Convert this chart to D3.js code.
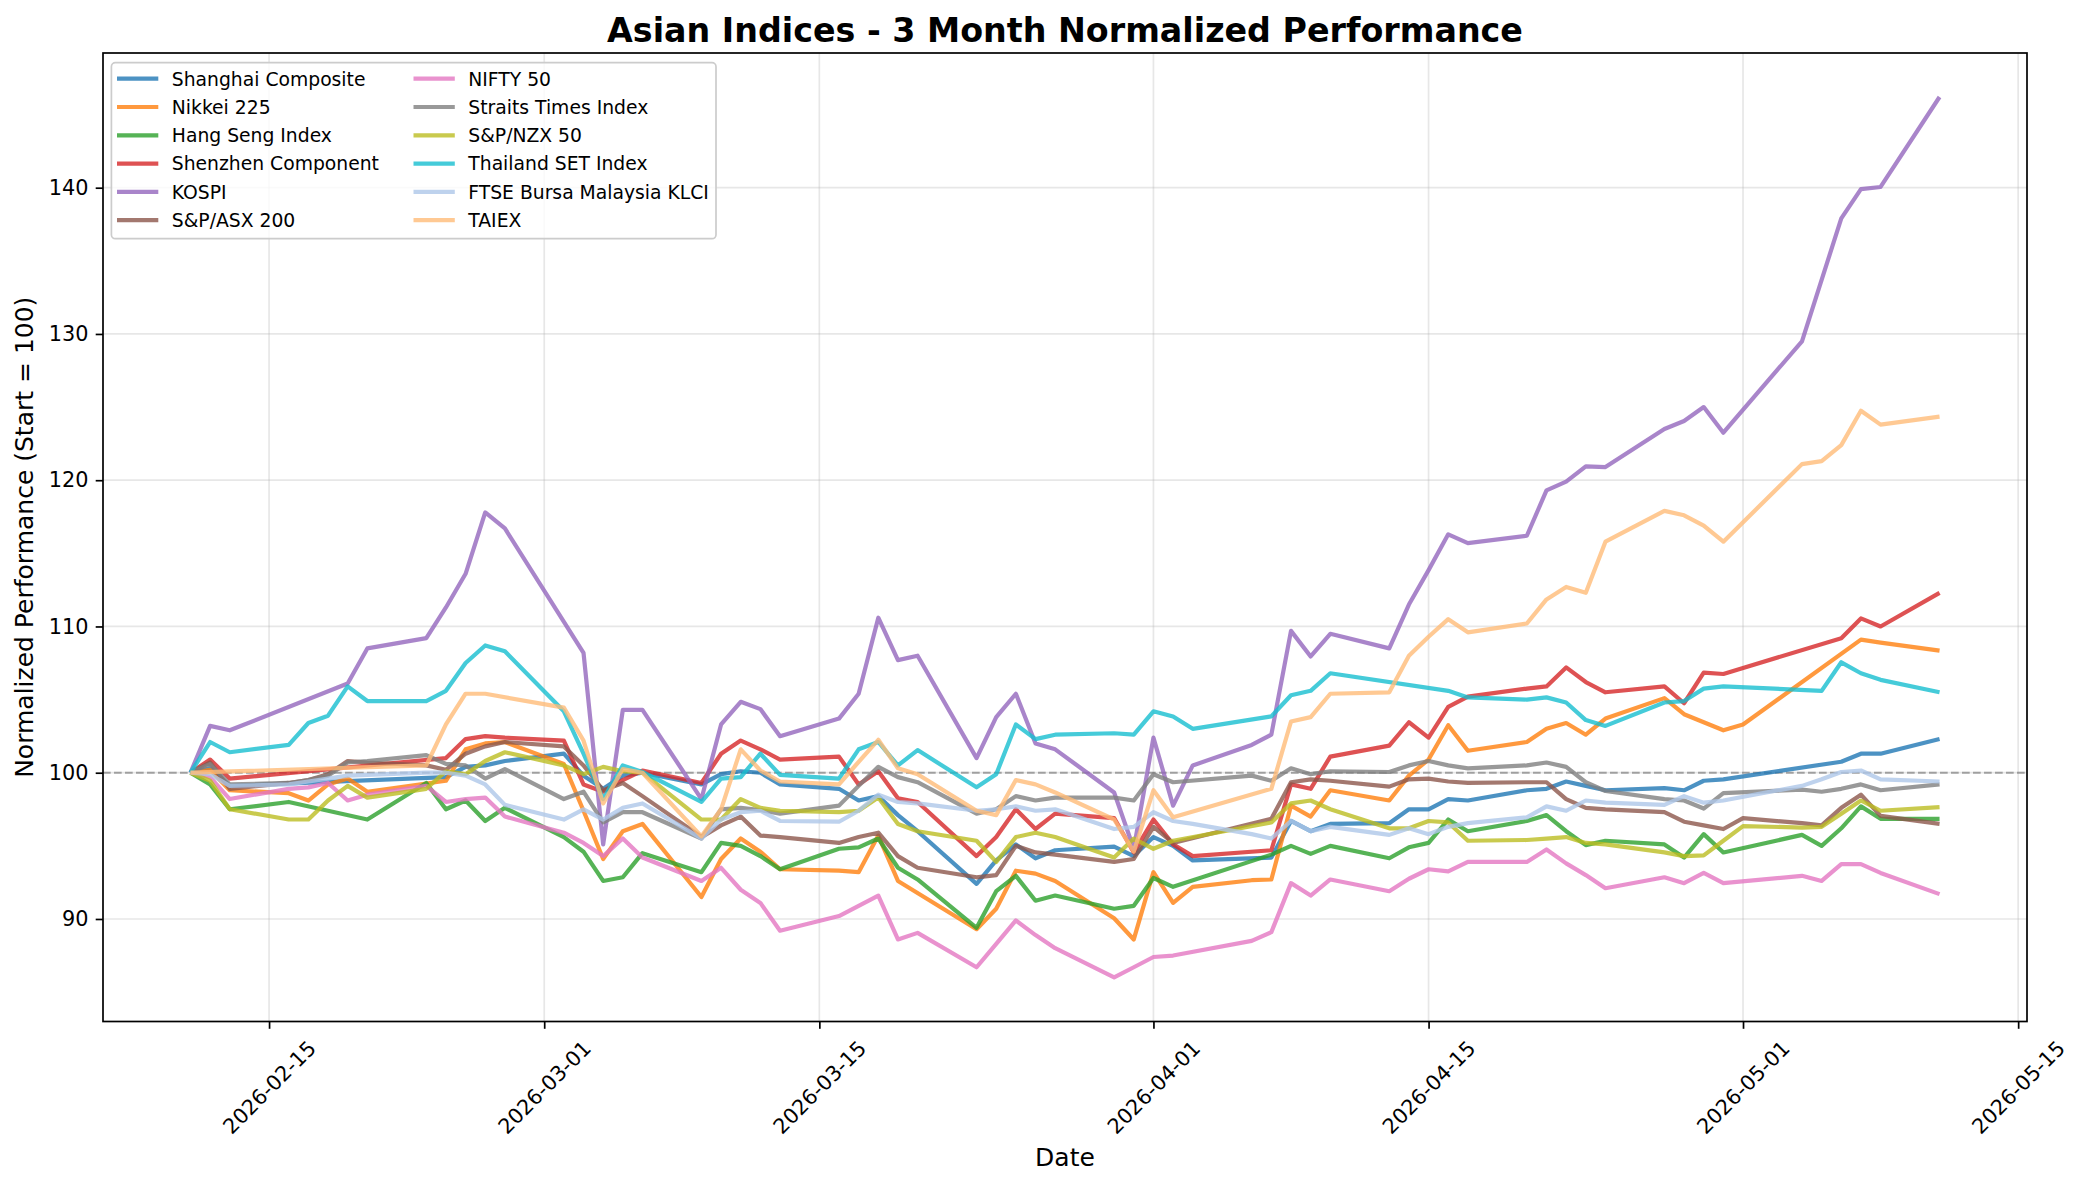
<!DOCTYPE html>
<html>
<head>
<meta charset="utf-8">
<script src="https://cdn.jsdelivr.net/npm/d3@7"></script>
<style>
body { margin: 0; background: #fff; }
text { font-family: 'DejaVu Sans', sans-serif; fill: #000; }
</style>
</head>
<body>
<script>
// trading days (weekdays), each index keeps its own holidays as null
var dates = [
    '2026-02-11', '2026-02-12', '2026-02-13',
    '2026-02-16', '2026-02-17', '2026-02-18', '2026-02-19', '2026-02-20',
    '2026-02-23', '2026-02-24', '2026-02-25', '2026-02-26', '2026-02-27',
    '2026-03-02', '2026-03-03', '2026-03-04', '2026-03-05', '2026-03-06',
    '2026-03-09', '2026-03-10', '2026-03-11', '2026-03-12', '2026-03-13',
    '2026-03-16', '2026-03-17', '2026-03-18', '2026-03-19', '2026-03-20',
    '2026-03-23', '2026-03-24', '2026-03-25', '2026-03-26', '2026-03-27',
    '2026-03-30', '2026-03-31', '2026-04-01', '2026-04-02', '2026-04-03',
    '2026-04-06', '2026-04-07', '2026-04-08', '2026-04-09', '2026-04-10',
    '2026-04-13', '2026-04-14', '2026-04-15', '2026-04-16', '2026-04-17',
    '2026-04-20', '2026-04-21', '2026-04-22', '2026-04-23', '2026-04-24',
    '2026-04-27', '2026-04-28', '2026-04-29', '2026-04-30', '2026-05-01',
    '2026-05-04', '2026-05-05', '2026-05-06', '2026-05-07', '2026-05-08',
    '2026-05-11'
]

var shanghai = [100, 100.3, 99.1,
    null, null, null, null, null,
    null, 99.7, 100.4, 100.5, 100.8,
    101.3, 99.8, 98.9, 99.8, 100.0,
    99.2, 99.9, 100.1, 100.0, 99.2,
    98.9, 98.1, 98.4, 97.1, 96.0,
    92.4, 94.0, 95.1, 94.15, 94.7,
    94.95, 94.3, 95.6, 95.0, 94.0,
    null, 94.2, 96.7, 96.0, 96.5,
    96.55, 97.5, 97.5, 98.2, 98.1,
    98.8, 98.9, 99.4, 99.1, 98.8,
    98.95, 98.8, 99.45, 99.55, null,
    null, null, 100.75, 101.3, 101.3,
    102.3]

var nikkei = [100, 100.2, 98.8,
    98.6, 98.1, 99.2, 99.6, 98.7,
    null, 99.45, 101.6, 102.0, 102.1,
    100.6, 97.4, 94.1, 96.0, 96.5,
    91.5, 94.1, 95.5, 94.6, 93.4,
    93.3, 93.2, 95.7, 92.6, null,
    89.3, 90.7, 93.3, 93.1, 92.6,
    90.05, 88.6, 93.2, 91.1, 92.2,
    92.65, 92.7, 97.75, 97.0, 98.8,
    98.1, 99.8, 100.9, 103.25, 101.5,
    102.1, 103.0, 103.4, 102.6, 103.7,
    105.1, 104.0, null, 102.9, 103.3,
    null, null, null, 109.1, 108.9,
    108.35]

var hangSeng = [100, 99.2, 97.5,
    98.0, null, null, null, 96.8,
    99.3, 97.5, 98.1, 96.7, 97.6,
    95.6, 94.6, 92.6, 92.85, 94.5,
    93.2, 95.2, 95.0, 94.3, 93.4,
    94.8, 94.9, 95.5, 93.5, 92.7,
    89.4, 91.9, 92.95, 91.25, 91.6,
    90.7, 90.9, 92.8, 92.2, null,
    null, 94.4, 95.0, 94.45, 95.0,
    94.15, 94.9, 95.2, 96.8, 96.0,
    96.7, 97.1, 96.0, 95.05, 95.35,
    95.1, 94.2, 95.8, 94.55, null,
    95.75, 95.0, 96.2, 97.7, 96.85,
    96.85]

var shenzhen = [100, 100.9, 99.6,
    null, null, null, null, null,
    null, 101.0, 102.3, 102.5, 102.4,
    102.2, 99.2, 98.7, 99.5, 100.15,
    99.3, 101.3, 102.2, 101.6, 100.9,
    101.1, 99.2, 100.1, 98.25, 98.0,
    94.3, 95.6, 97.5, 96.15, 97.2,
    96.9, 94.55, 96.8, 95.1, 94.3,
    null, 94.7, 99.2, 98.9, 101.1,
    101.85, 103.45, 102.4, 104.5, 105.2,
    105.75, 105.9, 107.2, 106.2, 105.5,
    105.9, 104.75, 106.85, 106.75, null,
    null, null, 109.2, 110.55, 110.0,
    112.3]

var kospi = [100, 103.2, 102.9,
    null, null, null, 106.1, 108.5,
    109.2, 111.3, 113.6, 117.8, 116.7,
    null, 108.2, 95.1, 104.3, 104.3,
    98.2, 103.3, 104.85, 104.35, 102.5,
    103.7, 105.4, 110.6, 107.7, 108.0,
    101.0, 103.8, 105.4, 102.0, 101.6,
    98.65, 94.8, 102.4, 97.75, 100.5,
    101.9, 102.6, 109.7, 107.95, 109.5,
    108.5, 111.5, 113.85, 116.3, 115.7,
    116.2, 119.3, 119.9, 120.95, 120.9,
    123.5, 124.05, 125.0, 123.25, null,
    129.5, null, 137.9, 139.9, 140.05,
    146.2]

var asx200 = [100, 100.7, 98.9,
    99.3, 99.5, 99.9, 100.8, 100.7,
    100.5, 100.2, 101.3, 101.8, 102.1,
    101.8, 100.5, 98.8, 99.3, 98.4,
    95.6, 96.4, 97.0, 95.7, 95.6,
    95.2, 95.6, 95.9, 94.3, 93.5,
    92.85, 93.0, 95.0, 94.55, 94.4,
    93.9, 94.1, 96.3, 95.2, null,
    null, 96.85, 99.35, 99.55, 99.45,
    99.05, 99.55, 99.6, 99.4, 99.3,
    99.35, 99.35, 98.2, 97.6, 97.5,
    97.3, 96.65, 96.4, 96.15, 96.9,
    96.55, 96.4, 97.6, 98.5, 97.05,
    96.5]

var nifty50 = [100, 99.7, 98.2,
    98.9, 99.0, 99.3, 98.1, 98.5,
    99.1, 98.0, 98.2, 98.3, 97.0,
    95.9, 95.2, 94.3, 95.5, 94.2,
    92.6, 93.5, 92.0, 91.1, 89.2,
    90.2, 90.9, 91.6, 88.6, 89.05,
    86.7, 88.3, 89.9, 88.9, 88.0,
    86.0, 86.7, 87.4, 87.5, null,
    88.5, 89.1, 92.45, 91.6, 92.7,
    91.9, 92.75, 93.4, 93.25, 93.9,
    93.9, 94.75, 93.8, 93.0, 92.1,
    92.85, 92.45, 93.15, 92.45, null,
    92.95, 92.6, 93.75, 93.75, 93.15,
    91.7]

var straitsTimes = [100, 100.6, 99.2,
    99.3, 99.5, 99.8, 100.7, 100.8,
    101.2, 100.6, 100.5, 99.6, 100.25,
    98.2, 98.7, 96.6, 97.3, 97.3,
    95.5, 97.5, 97.6, 97.45, 97.2,
    97.75, 99.1, 100.4, 99.7, 99.35,
    97.2, 97.5, 98.4, 98.1, 98.3,
    98.3, 98.1, 99.9, 99.35, null,
    99.8, 99.45, 100.3, 99.9, 100.1,
    100.05, 100.5, 100.8, 100.5, 100.3,
    100.5, 100.7, 100.4, 99.35, 98.75,
    98.2, 98.1, 97.55, 98.6, null,
    98.85, 98.7, 98.9, 99.2, 98.8,
    99.2]

var nzx50 = [100, 99.45, 97.5,
    96.8, 96.8, 98.1, 99.1, 98.3,
    98.9, 100.1, 99.9, 100.8, 101.4,
    100.5, 99.9, 100.4, 100.1, 100.0,
    96.8, 96.8, 98.2, 97.6, 97.4,
    97.3, 97.4, 98.3, 96.5, 96.0,
    95.35, 93.9, 95.6, 95.9, 95.6,
    94.2, 95.5, 94.8, 95.35, null,
    null, 96.6, 97.9, 98.1, 97.5,
    96.2, 96.2, 96.7, 96.6, 95.35,
    95.4, 95.5, 95.6, 95.2, 95.1,
    94.55, 94.3, 94.35, 95.35, 96.35,
    96.25, 96.3, 97.2, 98.1, 97.4,
    97.65]

var thaiSet = [100, 102.1, 101.4,
    101.9, 103.4, 103.9, 105.9, 104.9,
    104.9, 105.6, 107.5, 108.7, 108.3,
    104.2, 101.3, 98.2, 100.5, 100.05,
    98.0, 99.6, 99.7, 101.3, 99.85,
    99.6, 101.6, 102.1, 100.5, 101.55,
    99.0, 99.9, 103.3, 102.3, 102.6,
    102.7, 102.6, 104.2, 103.85, 103.0,
    null, 103.85, 105.3, 105.6, 106.8,
    null, null, null, 105.6, 105.15,
    105.0, 105.15, 104.8, 103.6, 103.2,
    104.8, 104.9, 105.75, 105.9, null,
    null, 105.6, 107.55, 106.8, 106.35,
    105.5]

var klci = [100, 99.9, 99.1,
    99.2, 99.4, 99.6, 99.8, 99.85,
    100.0, 100.0, 99.8, 99.2, 97.8,
    96.8, 97.5, 96.8, 97.6, 97.9,
    95.5, 96.8, 97.3, 97.4, 96.7,
    96.65, 97.4, 98.5, 98.0, 97.9,
    97.4, 97.5, 97.7, 97.4, 97.5,
    96.15, 96.3, 97.3, 96.7, 96.5,
    95.8, 95.5, 96.7, 96.0, 96.3,
    95.75, 96.2, 95.8, 96.3, 96.55,
    96.95, 97.7, 97.4, 98.1, 97.95,
    97.8, 98.4, 97.95, 98.1, null,
    99.1, 99.55, 100.05, 100.15, 99.55,
    99.4]

var taiex = [100, null, null,
    null, null, null, null, null,
    100.5, 103.3, 105.4, 105.4, null,
    104.45, 102.2, 97.9, 100.25, 100.0,
    95.65, 97.5, 101.6, 100.15, 99.4,
    99.2, 100.75, 102.25, 100.3, 99.9,
    97.4, 97.1, 99.5, 99.2, 98.65,
    96.8, 94.6, 98.8, 96.95, null,
    null, 98.9, 103.5, 103.8, 105.4,
    105.5, 108.0, 109.3, 110.5, 109.6,
    110.2, 111.85, 112.7, 112.3, 115.8,
    117.9, 117.6, 116.9, 115.8, null,
    121.1, 121.3, 122.4, 124.75, 123.8,
    124.35]

var indexNames = ['Shanghai Composite', 'Nikkei 225', 'Hang Seng Index', 'Shenzhen Component',
    'KOSPI', 'S&P/ASX 200', 'NIFTY 50', 'Straits Times Index', 'S&P/NZX 50',
    'Thailand SET Index', 'FTSE Bursa Malaysia KLCI', 'TAIEX']

var xTickLabels = ['2026-02-15', '2026-03-01', '2026-03-15', '2026-04-01', '2026-04-15', '2026-05-01', '2026-05-15']
var yTickValues = [90, 100, 110, 120, 130, 140]

var seriesValues = [shanghai, nikkei, hangSeng, shenzhen, kospi, asx200,
    nifty50, straitsTimes, nzx50, thaiSet, klci, taiex]
var color = ['#1f77b4', '#ff7f0e', '#2ca02c', '#d62728', '#9467bd', '#8c564b',
    '#e377c2', '#7f7f7f', '#bcbd22', '#17becf', '#aec7e8', '#ffbb78']

var width = 2080;
var height = 1184;
var margin = { top: 53, right: 53, bottom: 162.5, left: 103 };
var plotW = width - margin.left - margin.right;
var plotH = height - margin.top - margin.bottom;

var svg = d3.select('body')
    .append('svg')
    .attr('width', width)
    .attr('height', height)

var dataGroup = svg.append('g')
    .attr('transform', 'translate(' + margin.left + ',' + margin.top + ')')

var parseTime = d3.timeParse('%Y-%m-%d')
var dateObjs = dates.map(parseTime)

// matplotlib-like 5% padding on both axes
var allValues = d3.merge(seriesValues).filter(v => v !== null)
var yMin = d3.min(allValues), yMax = d3.max(allValues)
var yPad = (yMax - yMin) * 0.05
var t0 = dateObjs[0], t1 = dateObjs[dateObjs.length - 1]
var tPad = (t1 - t0) * 0.05

var x = d3.scaleTime()
    .domain([new Date(+t0 - tPad), new Date(+t1 + tPad)])
    .range([0, plotW]);

var y = d3.scaleLinear()
    .domain([yMin - yPad, yMax + yPad])
    .range([plotH, 0]);

var xTicks = xTickLabels.map(parseTime)

// grid
dataGroup.append('g').selectAll('line')
    .data(xTicks)
    .enter().append('line')
    .attr('x1', d => x(d)).attr('x2', d => x(d))
    .attr('y1', 0).attr('y2', plotH)
    .attr('stroke', '#b0b0b0').attr('stroke-opacity', 0.3).attr('stroke-width', 1.7)

dataGroup.append('g').selectAll('line')
    .data(yTickValues)
    .enter().append('line')
    .attr('x1', 0).attr('x2', plotW)
    .attr('y1', d => y(d)).attr('y2', d => y(d))
    .attr('stroke', '#b0b0b0').attr('stroke-opacity', 0.3).attr('stroke-width', 1.7)

// baseline at 100
dataGroup.append('line')
    .attr('x1', 0).attr('x2', plotW)
    .attr('y1', y(100)).attr('y2', y(100))
    .attr('stroke', '#808080').attr('stroke-opacity', 0.7)
    .attr('stroke-width', 2).attr('stroke-dasharray', '7.7,3.3')

for (var i = 0; i < seriesValues.length; i++) {
    plotVariable(seriesValues[i], color[i]);
}

// frame
dataGroup.append('rect')
    .attr('width', plotW).attr('height', plotH)
    .attr('fill', 'none').attr('stroke', '#000').attr('stroke-width', 1.7)

var xAxisGroup = dataGroup.append('g')
    .attr('transform', 'translate(0,' + plotH + ')')

var xAxis = d3.axisBottom(x)
    .tickValues(xTicks)
    .tickSize(7.3)
    .tickFormat(d3.timeFormat('%Y-%m-%d'))

xAxis(xAxisGroup);
xAxisGroup.select('.domain').remove()
xAxisGroup.selectAll('line').attr('stroke-width', 1.7)
xAxisGroup.selectAll('text')
    .attr('y', null).attr('dy', null)
    .attr('font-size', 20.8)
    .attr('font-family', 'DejaVu Sans')
    .attr('text-anchor', 'middle')
    .attr('dominant-baseline', 'central')
    .attr('transform', 'translate(0,66) rotate(-45)')

var yAxisGroup = dataGroup.append('g')

var yAxis = d3.axisLeft(y)
    .tickValues(yTickValues)
    .tickSize(7.3)
    .tickPadding(7.3)

yAxis(yAxisGroup);
yAxisGroup.select('.domain').remove()
yAxisGroup.selectAll('line').attr('stroke-width', 1.7)
yAxisGroup.selectAll('text')
    .attr('font-size', 20.8)
    .attr('font-family', 'DejaVu Sans')

// titles
svg.append('text')
    .attr('x', margin.left + plotW / 2).attr('y', 41.5)
    .attr('text-anchor', 'middle')
    .attr('font-size', 33.3).attr('font-weight', 'bold')
    .text('Asian Indices - 3 Month Normalized Performance')

svg.append('text')
    .attr('x', margin.left + plotW / 2).attr('y', 1166)
    .attr('text-anchor', 'middle')
    .attr('font-size', 25)
    .text('Date')

svg.append('text')
    .attr('transform', 'translate(33,' + (margin.top + plotH / 2) + ') rotate(-90)')
    .attr('text-anchor', 'middle')
    .attr('font-size', 25)
    .text('Normalized Performance (Start = 100)')

// legend, 2 columns filled top to bottom
var legend = svg.append('g')

legend.append('rect')
    .attr('x', 111.4).attr('y', 62.7)
    .attr('width', 604.6).attr('height', 176)
    .attr('rx', 4)
    .attr('fill', '#fff').attr('fill-opacity', 0.8)
    .attr('stroke', '#cccccc').attr('stroke-width', 1.7)

var items = legend.selectAll('.item')
    .data(indexNames)
    .enter().append('g')
    .attr('class', 'item')
    .attr('transform', (d, i) => 'translate(' + (i < 6 ? 117 : 413.5) + ',' + (78.7 + (i % 6) * 28.3) + ')')

items.append('line')
    .attr('x1', 0).attr('x2', 41.3)
    .attr('stroke', (d, i) => color[i])
    .attr('stroke-opacity', 0.8)
    .attr('stroke-width', 4.2)

items.append('text')
    .attr('x', 54.8).attr('y', 6.8)
    .attr('font-size', 18.75)
    .text(d => d)

function plotVariable(values, color) {

    var points = values
        .map((v, j) => ({ date: dateObjs[j], value: v }))
        .filter(p => p.value !== null)

    var line = d3.line()
        .x(d => x(d.date))
        .y(d => y(d.value))

    dataGroup.append('path')
        .data([points])
        .attr('fill', 'none')
        .attr('stroke', color)
        .attr('stroke-opacity', 0.8)
        .attr('stroke-width', 4.2)
        .attr('stroke-linejoin', 'round')
        .attr('d', line);
}
</script>
</body>
</html>
